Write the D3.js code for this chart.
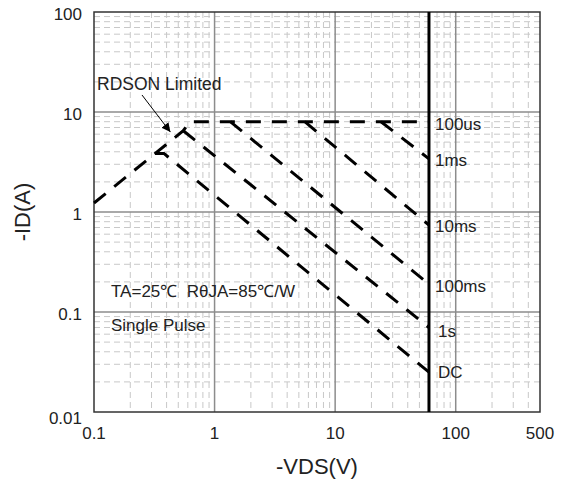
<!DOCTYPE html>
<html>
<head>
<meta charset="utf-8">
<script src="https://cdn.jsdelivr.net/npm/d3@7"></script>
<style>
  body { margin: 0; background: #fff; }
  svg { display: block; font-family: Arial, "Liberation Sans", sans-serif; }
</style>
</head>
<body>
<svg id="chart" width="564" height="482"></svg>
<script>
// values (V, A)
const xTicks = [0.1, 1, 10, 100, 500];
const yTicks = [0.01, 0.1, 1, 10, 100];
const vdsMax = 60;

const rdson = [[0.1, 1.23], [0.55, 6.5], [0.625, 8], [60, 8]];
const pulse1ms = [[24, 8], [60, 3.4]];
const pulse10ms = [[5.6, 8], [60, 0.74]];
const pulse100ms = [[1.35, 8], [60, 0.19]];
const pulse1s = [[0.55, 6.5], [60, 0.07]];
const pulseDC = [[0.32, 3.85], [0.38, 3.85], [60, 0.025]];

const curveLabels = ["100us", "1ms", "10ms", "100ms", "1s", "DC"];
const labelCurrents = [7.5, 3.3, 0.72, 0.18, 0.065, 0.025];

const width = 564;
const height = 482;
const margin = { top: 12, right: 24, bottom: 70, left: 94 };

const svg = d3.select("#chart");

const x = d3
  .scaleLog()
  .domain([0.1, 500])
  .range([margin.left, width - margin.right]);
const y = d3
  .scaleLog()
  .domain([0.01, 100])
  .range([height - margin.bottom, margin.top]);

const [x0, x1] = x.range();
const [y0, y1] = [y.range()[1], y.range()[0]];

// minor grid
const minorX = [];
const minorY = [];
for (const d of [0.1, 1, 10, 100]) {
  for (let k = 2; k <= 9; k++) {
    if (d * k < 500) minorX.push(d * k);
  }
}
for (const d of [0.01, 0.1, 1, 10]) {
  for (let k = 2; k <= 9; k++) minorY.push(d * k);
}

const grid = svg.append("g");
grid
  .selectAll(".minor-x")
  .data(minorX)
  .join("line")
  .attr("x1", (d) => x(d))
  .attr("x2", (d) => x(d))
  .attr("y1", y0)
  .attr("y2", y1)
  .attr("stroke", "#c8c8c8")
  .attr("stroke-dasharray", "6,4");
grid
  .selectAll(".minor-y")
  .data(minorY)
  .join("line")
  .attr("y1", (d) => y(d))
  .attr("y2", (d) => y(d))
  .attr("x1", x0)
  .attr("x2", x1)
  .attr("stroke", "#c8c8c8")
  .attr("stroke-dasharray", "6,4");
grid
  .selectAll(".major-x")
  .data(xTicks.slice(1, -1))
  .join("line")
  .attr("x1", (d) => x(d))
  .attr("x2", (d) => x(d))
  .attr("y1", y0)
  .attr("y2", y1)
  .attr("stroke", "#8c8c8c")
  .attr("stroke-width", 1.5);
grid
  .selectAll(".major-y")
  .data(yTicks.slice(1, -1))
  .join("line")
  .attr("y1", (d) => y(d))
  .attr("y2", (d) => y(d))
  .attr("x1", x0)
  .attr("x2", x1)
  .attr("stroke", "#8c8c8c")
  .attr("stroke-width", 1.5);

svg
  .append("rect")
  .attr("x", x0)
  .attr("y", y0)
  .attr("width", x1 - x0)
  .attr("height", y1 - y0)
  .attr("fill", "none")
  .attr("stroke", "#333")
  .attr("stroke-width", 1.5);

// tick labels
svg
  .append("g")
  .selectAll("text")
  .data(yTicks)
  .join("text")
  .attr("x", margin.left - 12)
  .attr("y", (d) => y(d) + (d === 0.01 ? 6 : 2))
  .attr("dy", "0.35em")
  .attr("text-anchor", "end")
  .attr("font-size", 17)
  .attr("fill", "#222")
  .text((d) => d);

svg
  .append("g")
  .selectAll("text")
  .data(xTicks)
  .join("text")
  .attr("x", (d) => x(d))
  .attr("y", y1 + 27)
  .attr("text-anchor", "middle")
  .attr("font-size", 17)
  .attr("fill", "#222")
  .text((d) => d);

svg
  .append("text")
  .attr("x", (x0 + x1) / 2)
  .attr("y", 474)
  .attr("text-anchor", "middle")
  .attr("font-size", 22)
  .attr("fill", "#222")
  .text("-VDS(V)");

svg
  .append("text")
  .attr("transform", `translate(30, ${(y0 + y1) / 2}) rotate(-90)`)
  .attr("text-anchor", "middle")
  .attr("font-size", 22)
  .attr("fill", "#222")
  .text("-ID(A)");

// VDS limit
svg
  .append("line")
  .attr("x1", x(vdsMax))
  .attr("x2", x(vdsMax))
  .attr("y1", y0)
  .attr("y2", y1)
  .attr("stroke", "#000")
  .attr("stroke-width", 3);

// SOA curves
const line = d3
  .line()
  .x((d) => x(d[0]))
  .y((d) => y(d[1]));

svg
  .append("g")
  .selectAll("path")
  .data([rdson, pulse1ms, pulse10ms, pulse100ms, pulse1s, pulseDC])
  .join("path")
  .attr("d", line)
  .attr("fill", "none")
  .attr("stroke", "#000")
  .attr("stroke-width", 3)
  .attr("stroke-dasharray", "15,11");

svg
  .append("g")
  .selectAll("text")
  .data(curveLabels)
  .join("text")
  .attr("x", (d) => x(vdsMax) + (d === "1s" || d === "DC" ? 9 : 6))
  .attr("y", (d, i) => y(labelCurrents[i]))
  .attr("dy", "0.35em")
  .attr("font-size", 17)
  .attr("fill", "#222")
  .text((d) => d);

// annotations
svg
  .append("defs")
  .append("marker")
  .attr("id", "arrow")
  .attr("viewBox", "0 0 10 10")
  .attr("refX", 10)
  .attr("refY", 5)
  .attr("markerWidth", 9)
  .attr("markerHeight", 9)
  .attr("markerUnits", "userSpaceOnUse")
  .attr("orient", "auto")
  .append("path")
  .attr("d", "M0,0L10,5L0,10z")
  .attr("fill", "#000");

svg
  .append("line")
  .attr("x1", x(0.25))
  .attr("y1", y(14.8))
  .attr("x2", x(0.43))
  .attr("y2", y(6.3))
  .attr("stroke", "#000")
  .attr("stroke-width", 1)
  .attr("marker-end", "url(#arrow)");

svg
  .append("text")
  .attr("x", 97)
  .attr("y", 90)
  .attr("font-size", 17.5)
  .attr("fill", "#222")
  .text("RDSON Limited");

svg
  .append("text")
  .attr("x", 111)
  .attr("y", 297)
  .attr("font-size", 17)
  .attr("fill", "#222")
  .style("white-space", "pre")
  .text("TA=25℃  RθJA=85℃/W");

svg
  .append("text")
  .attr("x", 111)
  .attr("y", 331)
  .attr("font-size", 17)
  .attr("fill", "#222")
  .text("Single Pulse");
</script>
</body>
</html>
